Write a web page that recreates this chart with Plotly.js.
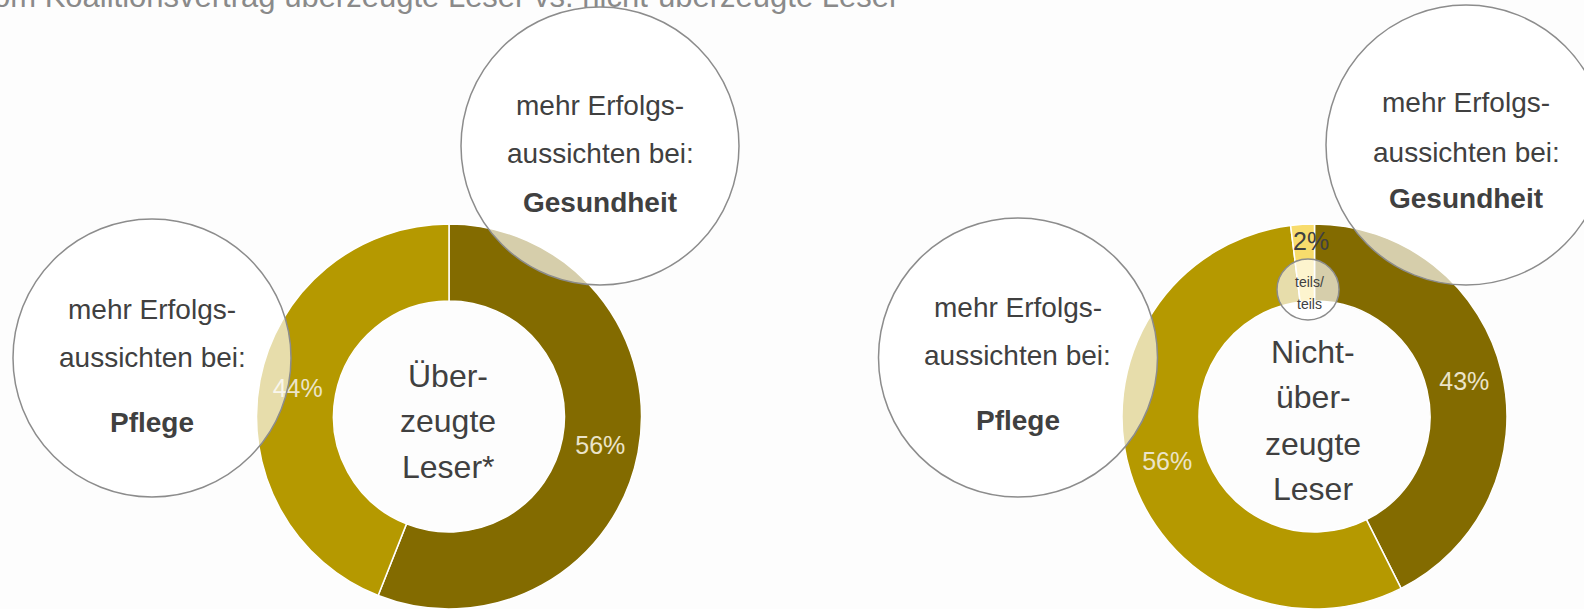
<!DOCTYPE html>
<html><head><meta charset="utf-8">
<script src="https://cdn.plot.ly/plotly-3.0.1.min.js"></script>
<style>html,body{margin:0;padding:0;background:#fdfdfd;} #chart{width:1584px;height:609px;}</style>
</head><body><div id="chart"></div>
<script>
// ---- data ----
const chartTitle = 'Vom Koalitionsvertrag überzeugte Leser vs. nicht-überzeugte Leser';
const labelsLeft = ['mehr Erfolgsaussichten bei Gesundheit', 'mehr Erfolgsaussichten bei Pflege'];
const valuesLeft = [56, 44];
const labelsRight = ['mehr Erfolgsaussichten bei Gesundheit', 'mehr Erfolgsaussichten bei Pflege', 'teils/teils'];
const valuesRight = [43, 56, 2];
const centerLeft = ['Über-', 'zeugte', 'Leser*'];
const centerRight = ['Nicht-', 'über-', 'zeugte', 'Leser'];
const bubbleIntro = ['mehr Erfolgs-', 'aussichten bei:'];
const bubbleTopics = ['Gesundheit', 'Pflege'];
const smallBubble = ['teils/', 'teils'];

// ---- styling ----
const W = 1584, H = 609;
const DARK = '#836b00', GOLD = '#b59900', YELLOW = '#f8dc6c';
const TXT = '#404040';
const REG = 'Liberation Sans, Arial, sans-serif';
const NARROW = 'Liberation Sans Narrow, Arial Narrow, Liberation Sans, Arial, sans-serif';
const px = x => x / W;
const py = y => 1 - y / H;

const pieCommon = {
  type: 'pie', hole: 0.6, sort: false, direction: 'clockwise', rotation: 0,
  textposition: 'inside', insidetextorientation: 'horizontal',
  textfont: {family: NARROW, size: 25, color: '#ebe4c9'},
  hoverinfo: 'none', showlegend: false
};

const traces = [
  Object.assign({}, pieCommon, {
    labels: labelsLeft, values: valuesLeft,
    texttemplate: '%{value}%',
    marker: {colors: [DARK, GOLD], line: {color: '#ffffff', width: 1.5}},
    domain: {x: [256 / W, 642 / W], y: [0, 385 / H]}
  }),
  Object.assign({}, pieCommon, {
    labels: labelsRight, values: valuesRight,
    texttemplate: ['%{value}%', '%{value}%', ''],
    marker: {colors: [DARK, GOLD, YELLOW], line: {color: '#ffffff', width: 1.5}},
    domain: {x: [1122 / W, 1507 / W], y: [0, 385 / H]}
  })
];

// bubbles: centre, radius, topic, vertical middles of the three lines
const bubbles = [
  {cx: 152, cy: 358, r: 139, topic: 1, ys: [309, 358, 422]},
  {cx: 600, cy: 146, r: 139, topic: 0, ys: [105, 153, 202]},
  {cx: 1018, cy: 357.5, r: 139.5, topic: 1, ys: [307, 356, 420]},
  {cx: 1466, cy: 145, r: 140, topic: 0, ys: [102, 152, 199]}
];

const circleStyle = {type: 'circle', xref: 'paper', yref: 'paper', layer: 'above',
  line: {color: '#8c8c8c', width: 1.5}, fillcolor: 'rgba(255,255,255,0.67)'};

const shapes = bubbles.map(b => Object.assign({}, circleStyle, {
  x0: px(b.cx - b.r), x1: px(b.cx + b.r), y0: py(b.cy + b.r), y1: py(b.cy - b.r)
}));
shapes.push(Object.assign({}, circleStyle, {
  x0: px(1277), x1: px(1339), y0: py(320), y1: py(259)
}));

const ann = (x, y, text, font, extra) => Object.assign({
  xref: 'paper', yref: 'paper', x: px(x), y: py(y), text: text,
  showarrow: false, xanchor: 'center', yanchor: 'middle', font: font
}, extra || {});

const annotations = [];
bubbles.forEach(b => {
  annotations.push(ann(b.cx, b.ys[0], bubbleIntro[0], {family: REG, size: 28, color: TXT}));
  annotations.push(ann(b.cx, b.ys[1], bubbleIntro[1], {family: REG, size: 28, color: TXT}));
  annotations.push(ann(b.cx, b.ys[2], '<b>' + bubbleTopics[b.topic] + '</b>', {family: REG, size: 28, color: TXT}));
});
const centerYsLeft = [376, 421, 467];
const centerYsRight = [352, 397, 444, 489];
centerLeft.forEach((t, i) => annotations.push(ann(448, centerYsLeft[i], t, {family: NARROW, size: 32, color: TXT})));
centerRight.forEach((t, i) => annotations.push(ann(1313, centerYsRight[i], t, {family: NARROW, size: 32, color: TXT})));
annotations.push(ann(1311, 241, valuesRight[2] + '%', {family: NARROW, size: 25, color: TXT}));
annotations.push(ann(1309, 282, smallBubble[0], {family: NARROW, size: 14, color: TXT}));
annotations.push(ann(1309, 304, smallBubble[1], {family: NARROW, size: 14, color: TXT}));
annotations.push(ann(-28, -4, chartTitle, {family: REG, size: 31, color: '#8a8a8a'}, {xanchor: 'left'}));

const layout = {
  width: W, height: H,
  margin: {l: 0, r: 0, t: 0, b: 0},
  paper_bgcolor: '#fdfdfd', plot_bgcolor: '#fdfdfd',
  shapes: shapes, annotations: annotations
};

Plotly.newPlot('chart', traces, layout, {displayModeBar: false, staticPlot: true});
</script>
</body></html>
